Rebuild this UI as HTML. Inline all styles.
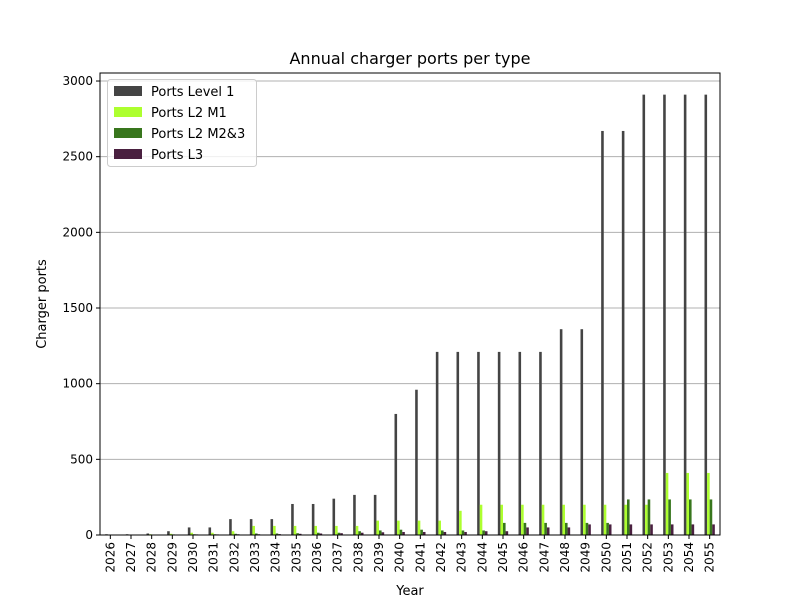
<!DOCTYPE html>
<html><head><meta charset="utf-8"><style>
body{margin:0;background:#fff}
svg text{font-family:"DejaVu Sans","Liberation Sans",sans-serif;fill:#000}
</style></head><body>
<svg id="chart" width="800" height="600"></svg>
<script>
const categories=["2026","2027","2028","2029","2030","2031","2032","2033","2034","2035","2036","2037","2038","2039","2040","2041","2042","2043","2044","2045","2046","2047","2048","2049","2050","2051","2052","2053","2054","2055"];
const level1=[5,5,10,25,50,50,105,105,105,205,205,240,265,265,800,960,1210,1210,1210,1210,1210,1210,1360,1360,2670,2670,2910,2910,2910,2910];
const l2m1=[3,3,5,8,15,15,25,60,60,60,60,60,60,95,95,95,95,160,200,200,200,200,200,200,200,200,200,410,410,410];
const l2m23=[2,2,3,4,5,5,8,10,10,12,15,15,25,30,35,35,30,30,30,80,80,80,80,80,80,235,235,235,235,235];
const l3=[1,1,2,3,4,4,5,5,6,8,10,12,15,18,20,20,20,20,25,25,50,50,50,70,70,70,70,70,70,70];
const yTicks=[0,500,1000,1500,2000,2500,3000];
const seriesNames=["Ports Level 1","Ports L2 M1","Ports L2 M2&3","Ports L3"];
const colors=["#444444","#adff2f","#38761d","#4a2040"];
const series=[level1,l2m1,l2m23,l3];
const NS="http://www.w3.org/2000/svg";
const svg=document.getElementById('chart');
const L=100,R=720,T=73,B=535,yMax=3053;
const y=v=>B-(v/yMax)*(B-T);
const gw=(R-L)/categories.length;
const xc=i=>L+gw*(i+0.5);
function mk(t,a,p){const e=document.createElementNS(NS,t);for(const k in a)e.setAttribute(k,a[k]);(p||svg).appendChild(e);return e;}
yTicks.forEach(t=>{
 const g=mk('line',{x1:L,x2:R,y1:y(t),y2:y(t),stroke:'#b0b0b0','stroke-width':1});
 
 
 const tk=mk('line',{x1:L-4,x2:L,y1:y(t),y2:y(t),stroke:'#000'});
 
 
 const tx=mk('text',{x:L-7,y:y(t)+4,'text-anchor':'end','font-size':12});tx.textContent=t;
 
 
});
const bw=gw*0.5/4;
series.forEach((s,si)=>{s.forEach((v,i)=>{
 const x0=xc(i)-gw*0.25+si*bw;
 const r=mk('rect',{x:x0,y:y(v),width:bw,height:B-y(v),fill:colors[si]});
 
 
});});
categories.forEach((c,i)=>{
 const tk=mk('line',{x1:xc(i),x2:xc(i),y1:B,y2:B+4,stroke:'#000'});
 
 
 const tx=mk('text',{x:0,y:0,'text-anchor':'end','font-size':12,transform:`translate(${xc(i)+4},${B+7}) rotate(-90)`});tx.textContent=c;
 
 
});
const fr=mk('rect',{x:L,y:T,width:R-L,height:B-T,fill:'none',stroke:'#000','stroke-width':1});


const ti=mk('text',{x:410,y:64,'text-anchor':'middle','font-size':16});ti.textContent='Annual charger ports per type';


const xt=mk('text',{x:410,y:595,'text-anchor':'middle','font-size':13});xt.textContent='Year';


const yt=mk('text',{x:0,y:0,'text-anchor':'middle','font-size':13,transform:'translate(46,304) rotate(-90)'});yt.textContent='Charger ports';


const lg=mk('g',{});


mk('rect',{x:107.5,y:79.5,width:149,height:87,rx:3,fill:'#fff','fill-opacity':0.8,stroke:'#ccc'},lg);
seriesNames.forEach((n,i)=>{
 const ent=mk('g',{},lg);
 
 
 mk('rect',{x:114,y:86+i*21,width:28,height:10,fill:colors[i]},ent);
 const t=mk('text',{x:151,y:96+i*21,'font-size':13},ent);t.textContent=n;
});
</script>
</body></html>
